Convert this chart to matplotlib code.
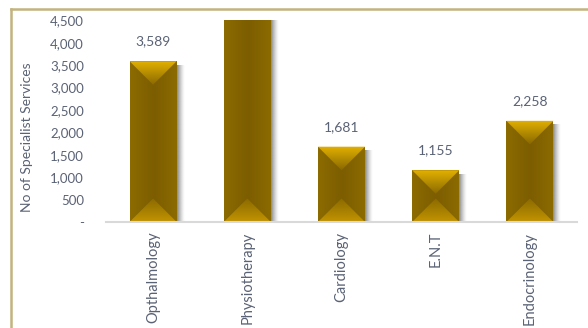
import numpy as np
import matplotlib
matplotlib.use("Agg")
import matplotlib.pyplot as plt
from matplotlib.patches import Polygon
from matplotlib.colors import LinearSegmentedColormap, to_rgba
from matplotlib.lines import Line2D

categories = ["Opthalmology", "Physiotherapy", "Cardiology", "E.N.T", "Endocrinology"]
services = [3589, 5300, 1681, 1155, 2258]
y_ticks = [0, 500, 1000, 1500, 2000, 2500, 3000, 3500, 4000, 4500]
y_tick_labels = ["-", "500", "1,000", "1,500", "2,000", "2,500", "3,000", "3,500", "4,000", "4,500"]
y_max = 4500

text_color = "#5A6275"
font = "Lato"

W, H, DPI = 588, 328, 100
fig = plt.figure(figsize=(W / DPI, H / DPI), dpi=DPI)
ax_l, ax_r, ax_b, ax_t = 106, 577, 222, 20.4
ax = fig.add_axes([ax_l / W, 1 - ax_b / H, (ax_r - ax_l) / W, (ax_b - ax_t) / H])

n = len(categories)
ax.set_xlim(-0.5, n - 0.5)
ax.set_ylim(0, y_max)

bar_w = 0.5
px_per_x = (ax_r - ax_l) / n
px_per_y = (ax_b - ax_t) / y_max
bevel = (bar_w * px_per_x / 2) / px_per_y  # 45-degree bevel depth in data units

body_cmap = LinearSegmentedColormap.from_list(
    "body", ["#8C6B00", "#7C5D00", "#8C6B00"])
top_cmap = LinearSegmentedColormap.from_list("top", ["#E2B000", "#8A6A00"])
bot_cmap = LinearSegmentedColormap.from_list("bot", ["#8A6A00", "#C29400"])
shadow_rgba = np.zeros((1, 32, 4))
shadow_rgba[..., :3] = to_rgba("#6A6A6A")[:3]
shadow_rgba[0, :, 3] = np.linspace(0.85, 0.0, 32) ** 1.4

grad_h = np.linspace(0, 1, 64).reshape(1, -1)
grad_v = np.linspace(0, 1, 64).reshape(-1, 1)

for i, v in enumerate(services):
    x0, x1, xc = i - bar_w / 2, i + bar_w / 2, i
    top = v
    # soft shadow to the right of each bar
    sh_w = 8 / px_per_x
    ax.imshow(shadow_rgba, extent=(x1, x1 + sh_w, 0, top - 4 / px_per_y),
              aspect="auto", zorder=1, interpolation="bilinear")
    # bar body
    body = Polygon([(x0, 0), (x1, 0), (x1, top), (x0, top)], closed=True,
                   facecolor="none", edgecolor="none")
    ax.add_patch(body)
    im = ax.imshow(grad_h, cmap=body_cmap, extent=(x0, x1, 0, top),
                   aspect="auto", zorder=2, interpolation="bilinear")
    im.set_clip_path(body)
    # top bevel
    tri_t = Polygon([(x0, top), (x1, top), (xc, top - bevel)], closed=True,
                    facecolor="none", edgecolor="none")
    ax.add_patch(tri_t)
    im = ax.imshow(grad_v, cmap=top_cmap, extent=(x0, x1, top - bevel, top),
                   aspect="auto", zorder=3, interpolation="bilinear",
                   origin="upper")
    im.set_clip_path(tri_t)
    # bottom bevel
    tri_b = Polygon([(x0, 0), (x1, 0), (xc, bevel)], closed=True,
                    facecolor="none", edgecolor="none")
    ax.add_patch(tri_b)
    im = ax.imshow(grad_v, cmap=bot_cmap, extent=(x0, x1, 0, bevel),
                   aspect="auto", zorder=3, interpolation="bilinear",
                   origin="upper")
    im.set_clip_path(tri_b)
    # value label
    if v <= y_max:
        ax.text(xc, v + 20 / px_per_y, f"{v:,}", ha="center", va="center",
                fontsize=10, color=text_color, family=font)

ax.set_xlim(-0.5, n - 0.5)
ax.set_ylim(0, y_max)

for s in ["top", "right", "left"]:
    ax.spines[s].set_visible(False)
ax.spines["bottom"].set_color("#D9D9D9")
ax.spines["bottom"].set_linewidth(1.5)
ax.spines["bottom"].set_zorder(5)

ax.set_xticks(range(n))
ax.set_xticklabels(categories, rotation=90, va="top", ha="center",
                   fontsize=10.5, color=text_color, family=font)
ax.set_yticks(y_ticks)
ax.set_yticklabels(y_tick_labels, fontsize=9.5, color=text_color, family=font)
ax.tick_params(axis="both", length=0)
ax.tick_params(axis="x", pad=7)
ax.tick_params(axis="y", pad=16)

fig.text(27 / W, 1 - 137 / H, "No of Specialist Services", rotation=90,
         ha="center", va="center", fontsize=10, color=text_color, family=font)

# outer frame
frame = "#C3B37F"
fig.add_artist(Line2D([11 / W, 11 / W], [0, 1 - 9 / H], color=frame, lw=1.8,
                      transform=fig.transFigure))
fig.add_artist(Line2D([11 / W, 1], [1 - 9 / H, 1 - 9 / H], color=frame, lw=1.8,
                      transform=fig.transFigure))

fig.savefig("out.png", dpi=DPI)
